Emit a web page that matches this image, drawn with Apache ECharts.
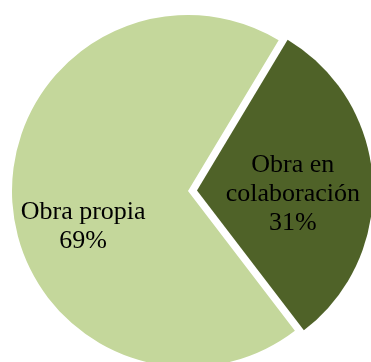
<!DOCTYPE html>
<html><head><meta charset="utf-8">
<script src="https://cdn.jsdelivr.net/npm/echarts@6/dist/echarts.min.js"></script>
<style>html,body{margin:0;padding:0;background:#fff}#c{width:371px;height:362px}</style>
</head><body><div id="c"></div>
<script>
const categories = ['Obra en\ncolaboración', 'Obra propia'];
const values = [31, 69];
const colors = ['#4f6228', '#c4d79b'];
const chart = echarts.init(document.getElementById('c'));
chart.setOption({
  animation: false,
  series: [{
    type: 'pie',
    center: [188, 191],
    radius: 176,
    startAngle: 59,
    clockwise: true,
    selectedMode: 'single',
    selectedOffset: 9,
    avoidLabelOverlap: false,
    emphasis: {disabled: true},
    label: {
      show: true,
      position: 'inside',
      formatter: p => p.name + '\n' + p.percent.toFixed(0) + '%',
      fontFamily: 'Liberation Serif',
      fontSize: 26,
      lineHeight: 29,
      color: '#000',
      align: 'center'
    },
    labelLine: {show: false},
    labelLayout: function (params) {
      if (params.dataIndex === 0) return {dx: 5, dy: 9};
      return {dx: -14, dy: 31};
    },
    data: categories.map((c, i) => ({
      name: c, value: values[i],
      selected: i === 0,
      itemStyle: {color: colors[i]}
    }))
  }]
});
</script></body></html>
